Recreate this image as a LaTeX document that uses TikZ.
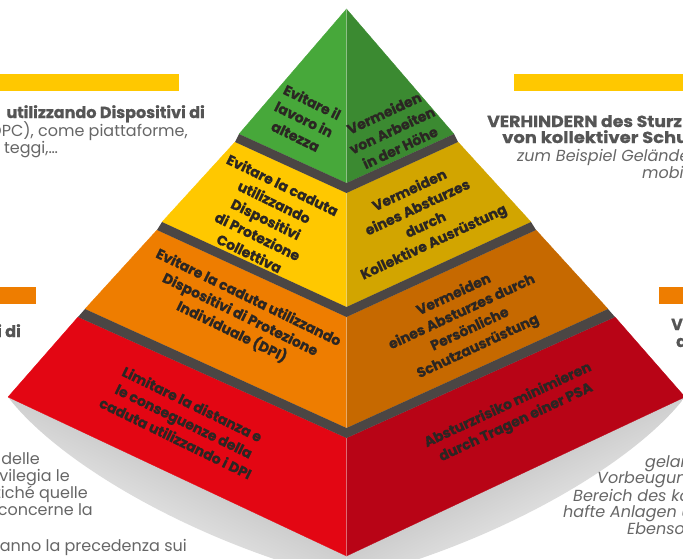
\documentclass[tikz,border=0pt]{standalone}
\usepackage{fontspec}
\setmainfont{Poppins}
\newfontfamily\facefont{Poppins}[BoldFeatures={FakeBold=0.8}]
\definecolor{pyrgreen}{HTML}{47A83A}
\definecolor{pyrgreendk}{HTML}{3B8A31}
\definecolor{pyryellow}{HTML}{FFC800}
\definecolor{pyryellowdk}{HTML}{D2A500}
\definecolor{pyrorange}{HTML}{EE7D00}
\definecolor{pyrorangedk}{HTML}{C66900}
\definecolor{pyrred}{HTML}{E30613}
\definecolor{pyrreddk}{HTML}{B80416}
\definecolor{pyrband}{HTML}{4B4644}
\definecolor{pyrink}{HTML}{2B2623}
\definecolor{sideink}{HTML}{555555}
\usetikzlibrary{positioning}

\begin{document}
\begin{tikzpicture}[x=1pt,y=-1pt,
  facetext/.style={text=pyrink,align=center,inner sep=0pt,font=\facefont\bfseries\fontsize{14}{19}\selectfont},
  sidebold/.style={text=sideink,inner sep=0pt,font=\facefont\bfseries\fontsize{16}{17}\selectfont},
  sidetext/.style={text=sideink!90,inner sep=0pt,font=\fontsize{16}{17}\selectfont},
  sideital/.style={text=sideink!90,inner sep=0pt,font=\itshape\fontsize{16}{17}\selectfont}]
  \useasboundingbox (0,0) rectangle (683,558);
  \def\cx{346.5}
  % shadow under the base
  \shade[top color=black!35,bottom color=white,shading angle=-26] (8,397) .. controls (60,465) and (200,545) .. (\cx,580) -- (\cx,556) -- cycle;
  \shade[top color=black!35,bottom color=white,shading angle=26] (685,397) .. controls (633,465) and (493,545) .. (\cx,580) -- (\cx,556) -- cycle;
  % tiers: name/top half width/top y/top front y/bottom half width/bottom y/bottom front y/colours
  \foreach \tier/\tw/\ty/\tf/\bw/\by/\bf/\lc/\rc in {
      g/0/9/9/107.5/134/183/pyrgreen/pyrgreendk,
      y/111.5/142/193/184.5/222/307/pyryellow/pyryellowdk,
      o/189.5/230/317/261.5/309/428/pyrorange/pyrorangedk,
      r/268.5/317/438/338.5/397/556/pyrred/pyrreddk}{
    \coordinate (\tier-tl) at (\cx-\tw,\ty);
    \coordinate (\tier-tf) at (\cx,\tf);
    \coordinate (\tier-tr) at (\cx+\tw,\ty);
    \coordinate (\tier-bl) at (\cx-\bw,\by);
    \coordinate (\tier-bf) at (\cx,\bf);
    \coordinate (\tier-br) at (\cx+\bw,\by);
    \filldraw[fill=\lc,draw=\lc,line width=.3pt] (\tier-tl) -- (\tier-tf) -- (\tier-bf) -- (\tier-bl) -- cycle;
    \filldraw[fill=\rc,draw=\rc,line width=.3pt] (\tier-tf) -- (\tier-tr) -- (\tier-br) -- (\tier-bf) -- cycle;
    \draw[white,opacity=.35,line width=.7pt] (\tier-tf) -- (\tier-bf);
  }
  \foreach \up/\dn in {g/y,y/o,o/r}
    \fill[pyrband] (\up-bl) -- (\up-bf) -- (\up-br) -- (\dn-tr) -- (\dn-tf) -- (\dn-tl) -- cycle;
  % labels on the faces
  \node[facetext,rotate=-26] (txt-g-l) at (304,119) {Evitare il\\lavoro in\\altezza};
  \node[facetext,rotate=25] (txt-g-r) at (392,130) {Vermeiden\\von Arbeiten\\in der Höhe};
  \node[facetext,rotate=-26] (txt-y-l) at (266,219) {Evitare la caduta\\utilizzando\\Dispositivi\\di Protezione\\Collettiva};
  \node[facetext,rotate=25] (txt-y-r) at (422,217) {Vermeiden\\eines Absturzes\\durch\\Kollektive Ausrüstung};
  \node[facetext,rotate=-26] (txt-o-l) at (240,315) {Evitare la caduta utilizzando\\Dispositivi di Protezione\\Individuale (DPI)};
  \node[facetext,rotate=25] (txt-o-r) at (466,321) {Vermeiden\\eines Absturzes durch\\Persönliche\\Schutzausrüstung};
  \node[facetext,rotate=-26] (txt-r-l) at (184,421) {Limitare la distanza e\\le conseguenze della\\caduta utilizzando i DPI};
  \node[facetext,rotate=25] (txt-r-r) at (512,414) {Absturzrisiko minimieren\\durch Tragen einer PSA};
  % bars and side texts
  \fill[pyryellow] (0,74) rectangle (179,91);
  \fill[pyryellow] (514,74) rectangle (683,91);
  \fill[pyrorange] (0,287) rectangle (36,304);
  \fill[pyrorange] (659,287) rectangle (683,304);
  \node[sidebold,anchor=base east] (ltop-1) at (205,118) {utilizzando Dispositivi di};
  \node[sidetext,anchor=base east] (ltop-2) at (188,136) {DPC), come piattaforme,};
  \node[sidetext,anchor=base east] (ltop-3) at (58,153) {teggi,…};
  \node[sidebold,anchor=base east] (lmid-1) at (21,337) {i di};
  \foreach \txt/\xe/\yb [count=\i] in {delle/40/464,vilegia le/70/481,tiché quelle/88/498,concerne la/93/515,anno la precedenza sui/187/551}
    \node[sidetext,anchor=base east] (lbot-\i) at (\xe,\yb) {\txt};
  \node[sidebold,xscale=1.08,anchor=base west] (rtop-1) at (487,127) {VERHINDERN des Sturz};
  \node[sidebold,xscale=1.12,anchor=base west] (rtop-2) at (502,143) {von kollektiver Schu};
  \node[sideital,anchor=base west] (rtop-3) at (517,161) {zum Beispiel Gelände};
  \node[sideital,anchor=base west] (rtop-4) at (642,178) {mobil};
  \node[sidebold,anchor=base west] (rmid-1) at (671,330) {V};
  \node[sidebold,anchor=base west] (rmid-2) at (676,347) {d};
  \foreach \txt/\xs/\yb [count=\i] in {gelan/645/467,Vorbeugun/597/483,Bereich des ko/573/501,hafte Anlagen u/563/517,Ebenso/627/534}
    \node[sideital,anchor=base west] (rbot-\i) at (\xs,\yb) {\txt};
\end{tikzpicture}
\end{document}
